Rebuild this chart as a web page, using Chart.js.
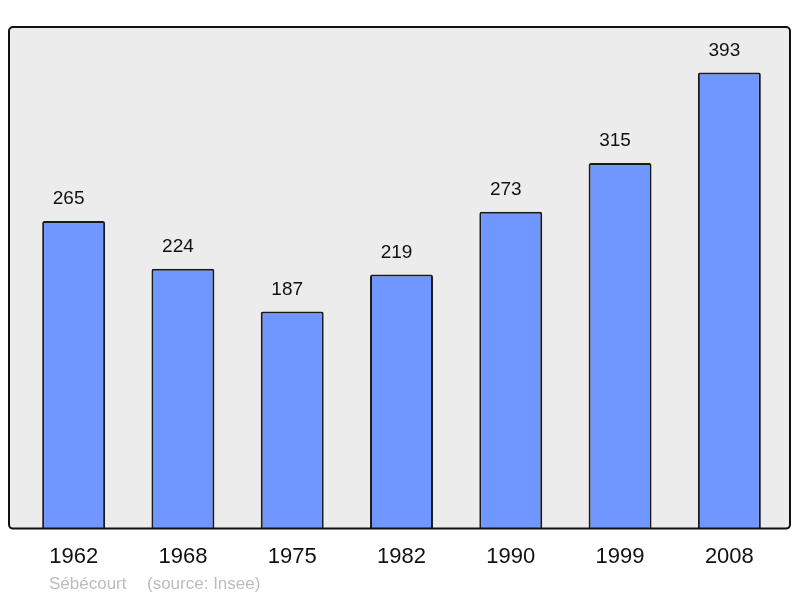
<!DOCTYPE html>
<html lang="fr">
<head>
  <meta charset="UTF-8" />
  <title>Sébécourt - population</title>
  <script src="https://cdn.jsdelivr.net/npm/chart.js"></script>
  <style>
    html, body { margin: 0; padding: 0; background: #fff; }
    #wrap { width: 800px; height: 598px; }
  </style>
</head>
<body>
  <div id="wrap"><canvas id="graphique" width="800" height="598"></canvas></div>

  <script>
    const annees = ['1962', '1968', '1975', '1982', '1990', '1999', '2008'];
    const habitants = [265, 224, 187, 219, 273, 315, 393];
    const commune = 'Sébécourt';
    const source = '(source: Insee)';

    // fond gris + cadre, dessine avant les barres
    const cadre = {
      id: 'cadre',
      beforeDraw(chart) {
        const { ctx, chartArea } = chart;
        const x = chartArea.left - 10, y = chartArea.top;
        const w = chartArea.right + 6 - x, h = chartArea.bottom - y;
        ctx.save();
        ctx.beginPath();
        ctx.roundRect(x, y, w, h, 4);
        ctx.fillStyle = '#ececec';
        ctx.fill();
        ctx.restore();
      },
      afterDatasetsDraw(chart) {
        const { ctx, chartArea } = chart;
        const x = chartArea.left - 10, y = chartArea.top;
        const w = chartArea.right + 6 - x, h = chartArea.bottom - y;
        ctx.save();
        ctx.beginPath();
        ctx.roundRect(x, y, w, h, 4);
        ctx.lineWidth = 2;
        ctx.strokeStyle = '#111';
        ctx.stroke();

        // valeurs au-dessus des barres
        ctx.fillStyle = '#111';
        ctx.font = '19px "Liberation Sans", Arial, sans-serif';
        ctx.textAlign = 'center';
        ctx.textBaseline = 'middle';
        chart.getDatasetMeta(0).data.forEach((bar, i) => {
          ctx.fillText(habitants[i], bar.x - 5, bar.y - 22);
        });

        // legende en bas
        ctx.fillStyle = '#bdbdbd';
        ctx.font = '17px "Liberation Sans", Arial, sans-serif';
        ctx.textAlign = 'left';
        ctx.fillText(commune, 49, 584);
        ctx.fillText(source, 147, 584);
        ctx.restore();
      }
    };

    new Chart(document.getElementById('graphique'), {
      type: 'bar',
      data: {
        labels: annees,
        datasets: [{
          data: habitants,
          backgroundColor: '#7096ff',
          borderColor: '#1a1a1a',
          borderWidth: 2,
          borderRadius: 2,
          borderSkipped: 'bottom',
          barPercentage: 0.576,
          categoryPercentage: 1
        }]
      },
      options: {
        responsive: false,
        animation: false,
        events: [],
        layout: { padding: { left: 19, right: 16, top: 27, bottom: 13 } },
        plugins: { legend: { display: false }, tooltip: { enabled: false } },
        scales: {
          x: {
            grid: { display: false, drawTicks: false },
            border: { display: false },
            ticks: {
              color: '#111',
              padding: 15,
              font: { size: 22, family: '"Liberation Sans", Arial, sans-serif' }
            }
          },
          y: {
            display: false,
            min: 0,
            max: Math.max(...habitants) * 1.1
          }
        }
      },
      plugins: [cadre]
    });
  </script>
</body>
</html>
